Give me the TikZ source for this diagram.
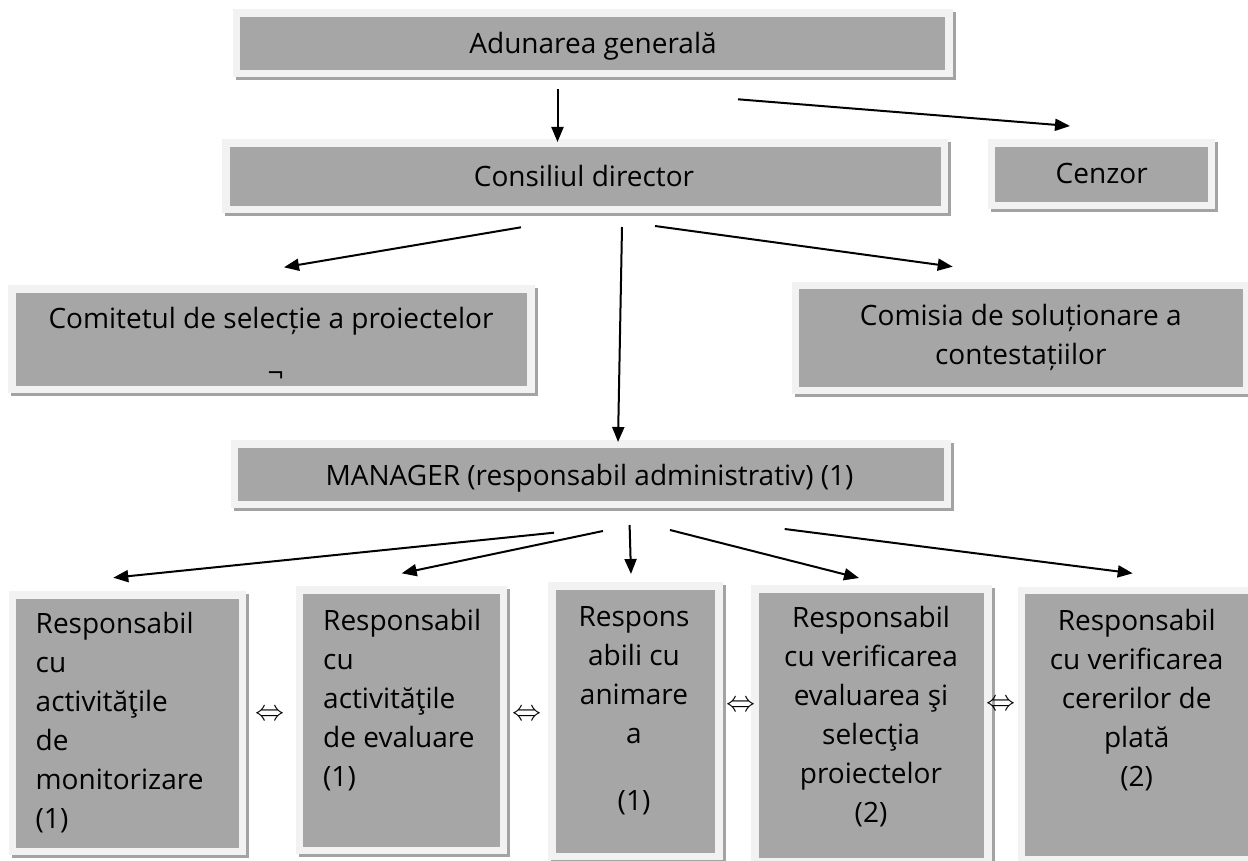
\documentclass[tikz,border=0pt]{standalone}
\usepackage{fontspec}
\setmainfont{Open Sans}
\usetikzlibrary{arrows.meta}
\definecolor{boxgray}{HTML}{A6A6A6}
\definecolor{framegray}{HTML}{F2F2F2}
\definecolor{shadowgray}{HTML}{A3A3A3}
\newcommand\orgbox[5]{%
  \fill[shadowgray] (#2+3,#3+3) rectangle (#4+3,#5+3);
  \fill[framegray] (#2,#3) rectangle (#4,#5);
  \node[boxfill, minimum width=#4-#2-15, minimum height=#5-#3-15] (#1) at ({(#2+#4)/2},{(#3+#5)/2}) {};
}
\tikzset{
  boxfill/.style={inner sep=0pt, outer sep=0pt, fill=boxgray, anchor=center},
  conn/.style={line width=2pt, -{Triangle[length=15pt,width=12pt]}},
  boxtext/.style={font=\fontsize{28}{39}\selectfont, inner sep=0pt, outer sep=0pt},
  dblarrow/.style={inner sep=0pt}
}
\newcommand\dbl{\scalebox{2.9}{$\Leftrightarrow$}}
\begin{document}
\begin{tikzpicture}[x=1pt,y=-1pt]
\fill[white] (0,0) rectangle (1248,861);
\useasboundingbox (0,0) rectangle (1248,861);

% boxes (frame coordinates)
\orgbox{adun}{232.5}{9.3}{952.7}{77.3}
\orgbox{cons}{222}{139.3}{948}{213.3}
\orgbox{cenz}{987.7}{139.3}{1215}{209.3}
\orgbox{comit}{8.4}{285}{534.5}{393.3}
\orgbox{comis}{791.7}{281.7}{1250}{394}
\orgbox{mgr}{230.7}{440}{951}{508.3}
\orgbox{ba}{8.9}{591}{246.4}{855}
\orgbox{bb}{295.7}{586}{507}{854}
\orgbox{bc}{548}{582}{722.8}{860}
\orgbox{bd}{751.3}{585}{991.5}{865}
\orgbox{be}{1017.5}{586.5}{1258}{863}

% texts
\node[boxtext, anchor=base] (tadun) at (593,53.3) {Adunarea generală};
\node[boxtext, anchor=base] (tcons) at (584,186.7) {Consiliul director};
\node[boxtext, anchor=base] (tcenz) at (1101.7,183.3) {Cenzor};
\node[boxtext, anchor=base] (tcomit) at (271,328.3) {Comitetul de selecție a proiectelor};
\node[boxtext, anchor=center] (tcomitb) at (275.7,377) {¬};
\node[boxtext, anchor=base] (tcomis) at (1020.8,325) {\begin{tabular}[t]{@{}c@{}}Comisia de soluționare a\\ contestațiilor\end{tabular}};
\node[boxtext, anchor=base] (tmgr) at (589.5,485) {MANAGER (responsabil administrativ) (1)};

\node[boxtext, anchor=base west] (tba) at (35.7,633) {\begin{tabular}[t]{@{}l@{}}Responsabil\\ cu\\ activităţile\\ de\\ monitorizare\\ (1)\end{tabular}};
\node[boxtext, anchor=base west] (tbb) at (323.2,630) {\begin{tabular}[t]{@{}l@{}}Responsabil\\ cu\\ activităţile\\ de evaluare\\ (1)\end{tabular}};
\node[boxtext, anchor=base] (tbc) at (634,626) {\begin{tabular}[t]{@{}c@{}}Respons\\ abili cu\\ animare\\ a\\[28pt] (1)\end{tabular}};
\node[boxtext, anchor=base] (tbd) at (871,627) {\begin{tabular}[t]{@{}c@{}}Responsabil\\ cu verificarea\\ evaluarea şi\\ selecţia\\ proiectelor\\ (2)\end{tabular}};
\node[boxtext, anchor=base] (tbe) at (1136.7,630) {\begin{tabular}[t]{@{}c@{}}Responsabil\\ cu verificarea\\ cererilor de\\ plată\\ (2)\end{tabular}};

% double arrows
\node[dblarrow] (d1) at (269.6,715) {\dbl};
\node[dblarrow] (d2) at (526.8,715) {\dbl};
\node[dblarrow] (d3) at (741,706) {\dbl};
\node[dblarrow] (d4) at (1001.4,705) {\dbl};

% connector end points
\coordinate (a1s) at (557.5,89);   \coordinate (a1e) at (557.5,142);
\coordinate (a2s) at (738,99.3);   \coordinate (a2e) at (1070,126);
\coordinate (a3s) at (521,227.3);  \coordinate (a3e) at (284,267.3);
\coordinate (a4s) at (622,227);    \coordinate (a4e) at (618,442);
\coordinate (a5s) at (655,226);    \coordinate (a5e) at (952.7,266.7);
\coordinate (m1s) at (554,532.7);  \coordinate (m1e) at (113.3,577.7);
\coordinate (m2s) at (603,531);    \coordinate (m2e) at (401.7,573.3);
\coordinate (m3s) at (629.6,525);  \coordinate (m3e) at (631,574);
\coordinate (m4s) at (670,530);    \coordinate (m4e) at (859,578);
\coordinate (m5s) at (784.7,529);  \coordinate (m5e) at (1132.7,573.3);

\draw[conn] (a1s) -- (a1e);
\draw[conn] (a2s) -- (a2e);
\draw[conn] (a3s) -- (a3e);
\draw[conn] (a4s) -- (a4e);
\draw[conn] (a5s) -- (a5e);
\draw[conn] (m1s) -- (m1e);
\draw[conn] (m2s) -- (m2e);
\draw[conn] (m3s) -- (m3e);
\draw[conn] (m4s) -- (m4e);
\draw[conn] (m5s) -- (m5e);
\end{tikzpicture}
\end{document}
